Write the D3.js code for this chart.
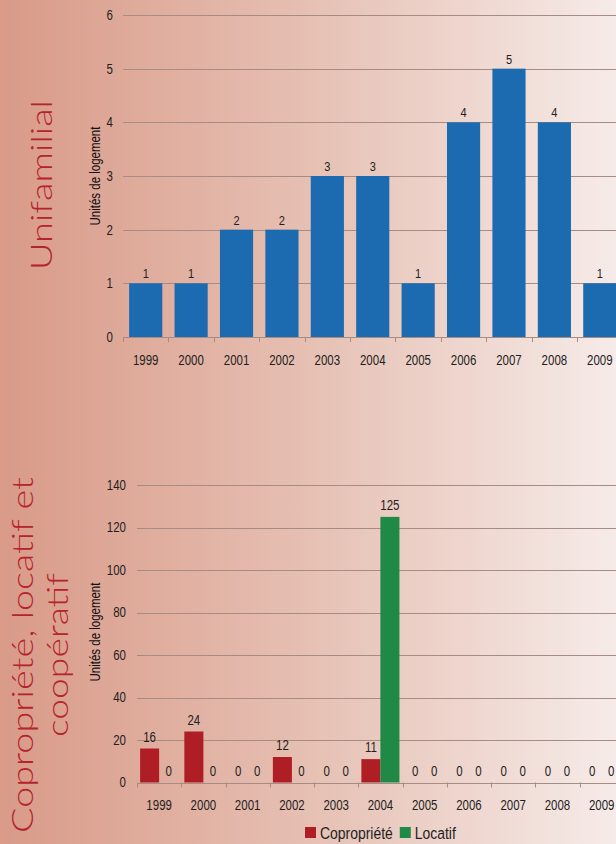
<!DOCTYPE html>
<html>
<head>
<meta charset="utf-8">
<script src="https://cdn.jsdelivr.net/npm/d3@7/dist/d3.min.js"></script>
<style>
  html, body { margin: 0; padding: 0; }
  svg { display: block; }
</style>
</head>
<body>
<script>
// ---- data ----
const years = ["1999","2000","2001","2002","2003","2004","2005","2006","2007","2008","2009"];
const unifamilial = [1,1,2,2,3,3,1,4,5,4,1];
const copropriete = [16,24,0,12,0,11,0,0,0,0,0];
const locatif = [0,0,0,0,0,125,0,0,0,0,0];
const ticksTop = [0,1,2,3,4,5,6];
const ticksBottom = [0,20,40,60,80,100,120,140];
const seriesNames = ["Copropriété","Locatif"];
const yTitle = "Unités de logement";
const titleTop = "Unifamilial";
const titleBottom = ["Copropriété, locatif et", "coopératif"];

const W = 616, H = 844;
const FONT = "'Liberation Sans',Arial,sans-serif";
const NARROW = 0.82;
const TITLE_FONT = "Lato,'Open Sans',sans-serif";
const gridColor = "#a58c85";
const textColor = "#231e1e";
const titleColor = "#b5232c";
const blue = "#1c6aaf", red = "#b01e25", green = "#1e8a45";

const svg = d3.select("body").append("svg").attr("width", W).attr("height", H);
const defs = svg.append("defs");
const grad = defs.append("linearGradient").attr("id","bg").attr("x1","0").attr("x2","1").attr("y1","0").attr("y2","0");
grad.append("stop").attr("offset","0").attr("stop-color","#d99a88");
grad.append("stop").attr("offset","0.5").attr("stop-color","#e6c0b3");
grad.append("stop").attr("offset","1").attr("stop-color","#f6ebe8");
svg.append("rect").attr("width",W).attr("height",H).attr("fill","url(#bg)");

// narrow text helper (horizontal condensing of Liberation Sans)
function ntext(sel, xf, yf, rot) {
  return sel.attr("transform", (d,i) => `translate(${xf(d,i)},${yf(d,i)})${rot ? " rotate(-90)" : ""} scale(${NARROW},1)`)
    .attr("font-family", FONT);
}

function drawFrame(g, x, y, ticks, left, right, gapLabel) {
  g.selectAll(".grid").data(ticks).join("line")
    .attr("x1", left).attr("x2", right)
    .attr("y1", d => Math.round(y(d)) + 0.5).attr("y2", d => Math.round(y(d)) + 0.5)
    .attr("stroke", gridColor).attr("stroke-width", 1);
  ntext(g.selectAll(".ylab").data(ticks).join("text"), () => left - gapLabel, d => y(d))
    .attr("dy","0.35em").attr("text-anchor","end").attr("font-size",14)
    .attr("fill",textColor).text(d => d);
  const step = x.step();
  const r0 = x.range()[0];
  const bounds = d3.range(years.length + 1).map(i => r0 + i * step);
  g.selectAll(".xt").data(bounds).join("line")
    .attr("x1", d => Math.round(d) + 0.5).attr("x2", d => Math.round(d) + 0.5)
    .attr("y1", y(0)).attr("y2", y(0) + 5)
    .attr("stroke", gridColor).attr("stroke-width", 1);
}

function xLabels(g, x, baseY) {
  ntext(g.selectAll(".xlab").data(years).join("text"), d => x(d) + x.bandwidth()/2, () => baseY)
    .attr("text-anchor","middle").attr("font-size",14)
    .attr("fill",textColor).text(d => d);
}

// ---------- top chart ----------
const gTop = svg.append("g");
const xT = d3.scaleBand().domain(years).range([123, 622.5]).paddingInner(0.27).paddingOuter(0.135);
const yT = d3.scaleLinear().domain([0, 6]).range([337, 15]);
drawFrame(gTop, xT, yT, ticksTop, 123, W, 10);
gTop.selectAll(".bar").data(years).join("rect")
  .attr("x", d => xT(d)).attr("width", xT.bandwidth())
  .attr("y", (d,i) => yT(unifamilial[i])).attr("height", (d,i) => yT(0) - yT(unifamilial[i]))
  .attr("fill", blue);
ntext(gTop.selectAll(".val").data(years).join("text"), d => xT(d) + xT.bandwidth()/2, (d,i) => yT(unifamilial[i]) - 5)
  .attr("text-anchor","middle").attr("font-size",13.5)
  .attr("fill",textColor).text((d,i) => unifamilial[i]);
xLabels(gTop, xT, 365);
ntext(gTop.append("text").datum(0), () => 95, () => 176, true).attr("dy","0.35em")
  .attr("text-anchor","middle").attr("font-size",14)
  .attr("fill","#111").text(yTitle);
svg.append("text").attr("transform","translate(52,185) rotate(-90)")
  .attr("text-anchor","middle").attr("font-family",TITLE_FONT).attr("font-weight",300)
  .attr("font-size",30).attr("fill",titleColor)
  .attr("textLength",170).attr("lengthAdjust","spacingAndGlyphs").text(titleTop);

// ---------- bottom chart ----------
const gBot = svg.append("g");
const xB = d3.scaleBand().domain(years).range([137, 623.8]).paddingInner(0.14).paddingOuter(0.07);
const xS = d3.scaleBand().domain(seriesNames).range([0, xB.bandwidth()]);
const yB = d3.scaleLinear().domain([0, 140]).range([782.5, 485]);
drawFrame(gBot, xB, yB, ticksBottom, 137, W, 11);
const rows = [];
years.forEach((yr, i) => {
  rows.push({yr, s: seriesNames[0], v: copropriete[i], c: red});
  rows.push({yr, s: seriesNames[1], v: locatif[i], c: green});
});
gBot.selectAll(".bar").data(rows).join("rect")
  .attr("x", d => xB(d.yr) + xS(d.s)).attr("width", xS.bandwidth())
  .attr("y", d => yB(d.v)).attr("height", d => yB(0) - yB(d.v))
  .attr("fill", d => d.c);
ntext(gBot.selectAll(".val").data(rows).join("text"), d => xB(d.yr) + xS(d.s) + xS.bandwidth()/2, d => yB(d.v) - 7)
  .attr("text-anchor","middle").attr("font-size",14)
  .attr("fill",textColor).text(d => d.v);
xLabels(gBot, xB, 809.5);
ntext(gBot.append("text").datum(0), () => 95, () => 632, true).attr("dy","0.35em")
  .attr("text-anchor","middle").attr("font-size",14)
  .attr("fill","#111").text(yTitle);
const tb = svg.append("text").attr("transform","translate(0,655) rotate(-90)")
  .attr("text-anchor","middle").attr("font-family",TITLE_FONT).attr("font-weight",300)
  .attr("font-size",30).attr("fill",titleColor);
tb.append("tspan").attr("x",0).attr("y",33).attr("textLength",356).attr("lengthAdjust","spacingAndGlyphs").text(titleBottom[0]);
tb.append("tspan").attr("x",0).attr("y",68).attr("textLength",164).attr("lengthAdjust","spacingAndGlyphs").text(titleBottom[1]);

// legend
const legColors = [red, green];
let lx = 305;
seriesNames.forEach((name, i) => {
  const lg = svg.append("g");
  lg.append("rect").attr("x", lx).attr("y", 827).attr("width", 11).attr("height", 11).attr("fill", legColors[i]);
  const t = ntext(lg.append("text").datum(0), () => lx + 15, () => 838.5)
    .attr("font-size",17).attr("fill",textColor).text(name);
  lx = lx + 15 + t.node().getComputedTextLength() * NARROW + 7;
});
</script>
</body>
</html>
